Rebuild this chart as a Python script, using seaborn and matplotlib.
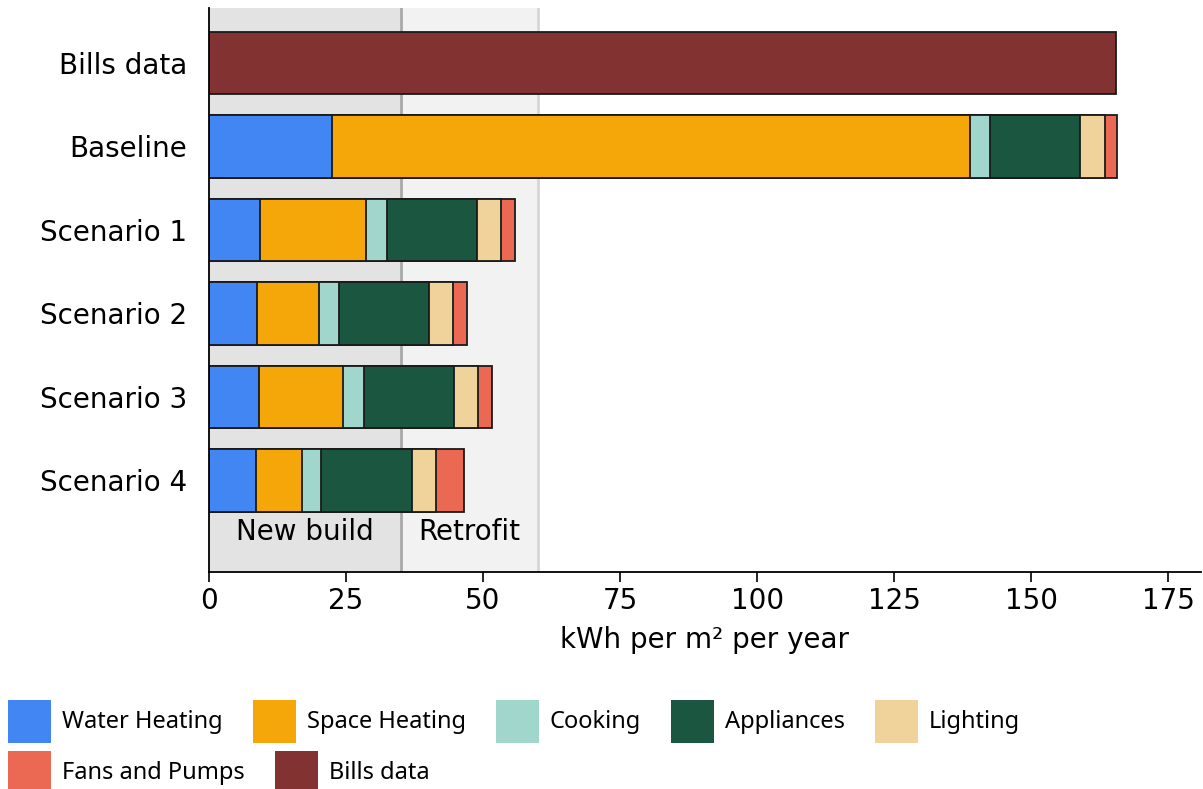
import matplotlib
matplotlib.use("Agg")
import matplotlib.pyplot as plt
from matplotlib.patches import Patch
import seaborn as sns
import pandas as pd
import numpy as np

# ---- data ----
rows = ["Bills data", "Baseline", "Scenario 1", "Scenario 2", "Scenario 3", "Scenario 4", ""]
scenarios = ["Baseline", "Scenario 1", "Scenario 2", "Scenario 3", "Scenario 4"]
categories = ["Water Heating", "Space Heating", "Cooking", "Appliances", "Lighting", "Fans and Pumps"]
water_heating = [22.5, 9.25, 8.8, 9.1, 8.5]
space_heating = [116.3, 19.45, 11.2, 15.4, 8.4]
cooking = [3.7, 3.8, 3.7, 3.7, 3.6]
appliances = [16.4, 16.4, 16.4, 16.5, 16.5]
lighting = [4.6, 4.4, 4.4, 4.4, 4.4]
fans_and_pumps = [2.2, 2.5, 2.5, 2.5, 5.1]
bills_label = ["Bills data"]
bills_value = [165.4]
zones = ["New build", "Retrofit"]
zone_edges = [0, 35, 60]
xticks = [0, 25, 50, 75, 100, 125, 150, 175]

colors = {
    "Water Heating": "#4286f4",
    "Space Heating": "#f5a608",
    "Cooking": "#a0d6cb",
    "Appliances": "#1a5640",
    "Lighting": "#f0d39b",
    "Fans and Pumps": "#eb6852",
    "Bills data": "#823230",
}

sns.set_style("white")
plt.rcParams["font.family"] = ["DejaVu Sans"]
plt.rcParams.update({"text.color": "black", "axes.labelcolor": "black",
                     "xtick.color": "black", "ytick.color": "black"})

W, H = 1203, 789
fig = plt.figure(figsize=(W / 100, H / 100), dpi=100)
ax = fig.add_axes([209 / W, 1 - 572 / H, (1201 - 209) / W, (572 - 8) / H])

# background zones
ax.axvspan(zone_edges[0], zone_edges[1], color="#e3e3e3", zorder=0, lw=0)
ax.axvspan(zone_edges[1], zone_edges[2], color="#f2f2f2", zorder=0, lw=0)
ax.axvline(zone_edges[1], color="#a9a9a9", lw=2, zorder=0.5)
ax.axvline(zone_edges[2], color="#d6d6d6", lw=2, zorder=0.5)

# stacked bars drawn as cumulative totals, largest first
series = [water_heating, space_heating, cooking, appliances, lighting, fans_and_pumps]
cum = np.cumsum(np.array(series), axis=0)
for i in range(len(categories) - 1, -1, -1):
    df = pd.DataFrame({"row": scenarios, "value": cum[i]})
    sns.barplot(data=df, x="value", y="row", order=rows, orient="h",
                color=colors[categories[i]], saturation=1, width=0.75,
                edgecolor="#1a1a1a", linewidth=1.3, ax=ax)

dfb = pd.DataFrame({"row": bills_label, "value": bills_value})
sns.barplot(data=dfb, x="value", y="row", order=rows, orient="h",
            color=colors["Bills data"], saturation=1, width=0.75,
            edgecolor="#1a1a1a", linewidth=1.3, ax=ax)

# zone labels
for z, a, b in zip(zones, zone_edges[:-1], zone_edges[1:]):
    ax.text((a + b) / 2, 5.62, z, ha="center", va="center", fontsize=20, color="black")

ax.set_ylim(6.10, -0.66)
ax.set_xlim(0, 181)
ax.set_xticks(xticks)
ax.set_xticklabels([str(t) for t in xticks])
ax.set_xlabel("kWh per m² per year", fontsize=20, labelpad=8)
ax.set_ylabel("")
ax.tick_params(axis="x", labelsize=20, length=7, width=1.2, color="black", bottom=True)
ax.tick_params(axis="y", labelsize=20, length=0, pad=16)
for s in ["top", "right"]:
    ax.spines[s].set_visible(False)
for s in ["left", "bottom"]:
    ax.spines[s].set_color("black")
    ax.spines[s].set_linewidth(1.3)

# legend (two flowing rows)
fs = 17
px = fs * 100 / 72
hh = (43 / px - 0.245) / 0.65
leg_kw = dict(frameon=False, handlelength=43 / px, handleheight=hh,
              handletextpad=11 / px, columnspacing=30 / px, borderpad=0, borderaxespad=0,
              loc="center left", labelcolor="black",
              prop={"family": "Noto Sans", "size": fs})
row1 = categories[:5]
row2 = [categories[5], "Bills data"]
h1 = [Patch(facecolor=colors[c], edgecolor="none") for c in row1]
h2 = [Patch(facecolor=colors[c], edgecolor="none") for c in row2]
fig.legend(h1, row1, ncol=len(row1), bbox_to_anchor=(8 / W, 68 / H), **leg_kw)
fig.legend(h2, row2, ncol=len(row2), bbox_to_anchor=(8 / W, 17 / H), **leg_kw)

fig.savefig("out.png", dpi=100)
